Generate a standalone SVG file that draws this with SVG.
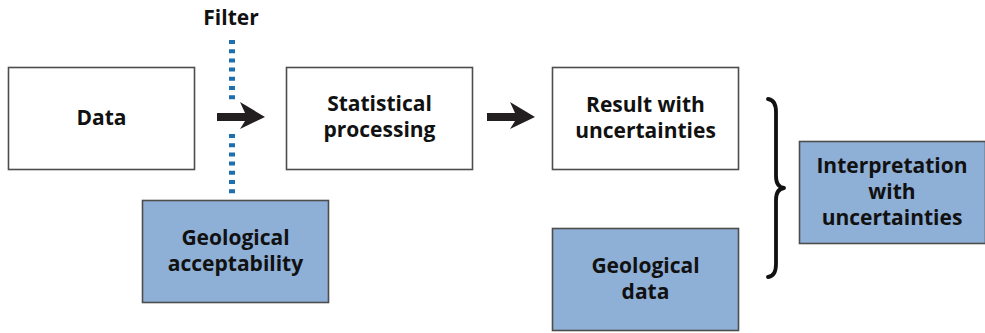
<svg xmlns="http://www.w3.org/2000/svg" width="985" height="333" viewBox="0 0 985 333">
<style>
.box{fill:#fff;stroke:#4d4d4d;stroke-width:1.6}
.blue{fill:#8eafd6;stroke:#4d4d4d;stroke-width:1.6}
text{font-family:"Open Sans","Noto Sans","Liberation Sans",sans-serif;font-weight:bold;font-size:21px;fill:#111;text-anchor:middle}
.filter{stroke:#1d6fae;stroke-width:6;stroke-dasharray:4 5.2;fill:none}
.arrow{fill:#231f20}
.brace{fill:none;stroke:#111;stroke-width:3.8;stroke-linecap:round;stroke-linejoin:round}
</style>
<rect width="985" height="333" fill="#fff"/>
<g id="data"><rect class="box" x="8.5" y="67.5" width="186" height="102"/><text x="101.5" y="124.5">Data</text></g>
<g id="stat"><rect class="box" x="286.5" y="67.5" width="186" height="102"/><text x="379.5" y="111">Statistical</text><text x="379.5" y="136.5">processing</text></g>
<g id="result"><rect class="box" x="552.5" y="67.5" width="186" height="102"/><text x="645.5" y="112">Result with</text><text x="645.5" y="137.5">uncertainties</text></g>
<g id="geoacc"><rect class="blue" x="142.5" y="200.5" width="186" height="102"/><text x="235.5" y="245">Geological</text><text x="235.5" y="271">acceptability</text></g>
<g id="geodata"><rect class="blue" x="552.5" y="228.5" width="186" height="102"/><text x="645.5" y="273">Geological</text><text x="645.5" y="299">data</text></g>
<g id="interp"><rect class="blue" x="799.5" y="141.5" width="186" height="102"/><text x="892" y="172.5">Interpretation</text><text x="892" y="198.5">with</text><text x="892" y="224.5">uncertainties</text></g>
<g id="filter"><text x="231" y="25">Filter</text><line class="filter" x1="232" y1="40" x2="232" y2="100"/><line class="filter" x1="232" y1="134" x2="232" y2="194"/></g>
<g id="connectors">
<polygon class="arrow" points="217,113 245,113 240,102 265,117 240,129 245,121 217,121"/>
<polygon class="arrow" points="487,113 515,113 510,102 535,117 510,129 515,121 487,121"/>
<path class="brace" d="M768,99 Q776,100 776,112 L776,176 Q776,187 784,188 Q776,189 776,200 L776,264 Q776,276 768,277"/>
</g>
</svg>
